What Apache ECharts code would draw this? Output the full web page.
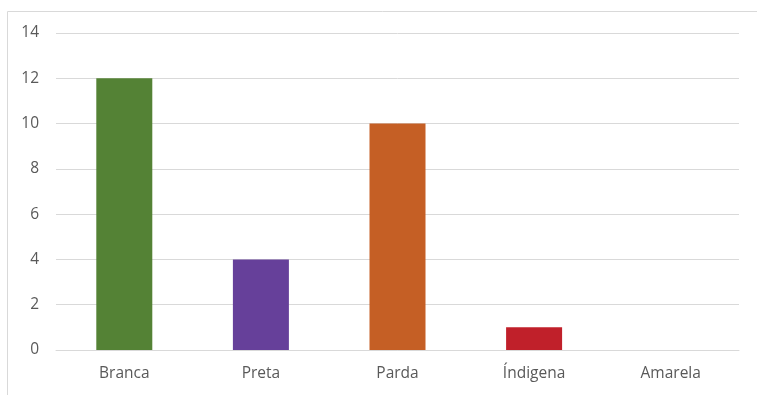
<!DOCTYPE html>
<html>
<head>
<meta charset="utf-8">
<script src="https://cdn.jsdelivr.net/npm/echarts@6/dist/echarts.min.js"></script>
<style>
  html, body { margin: 0; padding: 0; background: #fff; }
  #chart { width: 757px; height: 395px; }
</style>
</head>
<body>
<div id="chart"></div>
<script>
// Population by colour/race category
const categories = ['Branca', 'Preta', 'Parda', 'Índigena', 'Amarela'];
const counts = [12, 4, 10, 1, 0];
const barColors = ['#548235', '#66409a', '#c55f25', '#c0202a', '#4472c4'];
const yTicks = [0, 2, 4, 6, 8, 10, 12, 14];

const chart = echarts.init(document.getElementById('chart'), null, { renderer: 'canvas' });
const font = '"Open Sans", "Liberation Sans", sans-serif';

chart.setOption({
  animation: false,
  graphic: [{
    type: 'rect',
    shape: { x: 7.5, y: 11.5, width: 800, height: 500 },
    style: { fill: 'none', stroke: '#d9d9d9', lineWidth: 1 },
    silent: true
  }],
  grid: { left: 56, right: 18, top: 33, bottom: 45 },
  xAxis: {
    type: 'category',
    data: categories,
    axisTick: { show: false },
    axisLine: { lineStyle: { color: '#d9d9d9', width: 1 } },
    axisLabel: { color: '#595959', fontSize: 15.5, fontFamily: font, margin: 16 }
  },
  yAxis: {
    type: 'value',
    min: yTicks[0],
    max: yTicks[yTicks.length - 1],
    interval: 2,
    axisLine: { show: false },
    axisTick: { show: false },
    splitLine: { lineStyle: { color: '#d9d9d9', width: 1 } },
    axisLabel: { color: '#595959', fontSize: 15.5, fontFamily: font, margin: 17 }
  },
  series: [{
    type: 'bar',
    barWidth: 56,
    data: counts.map((v, i) => ({ value: v, itemStyle: { color: barColors[i] } }))
  }]
});
</script>
</body>
</html>
